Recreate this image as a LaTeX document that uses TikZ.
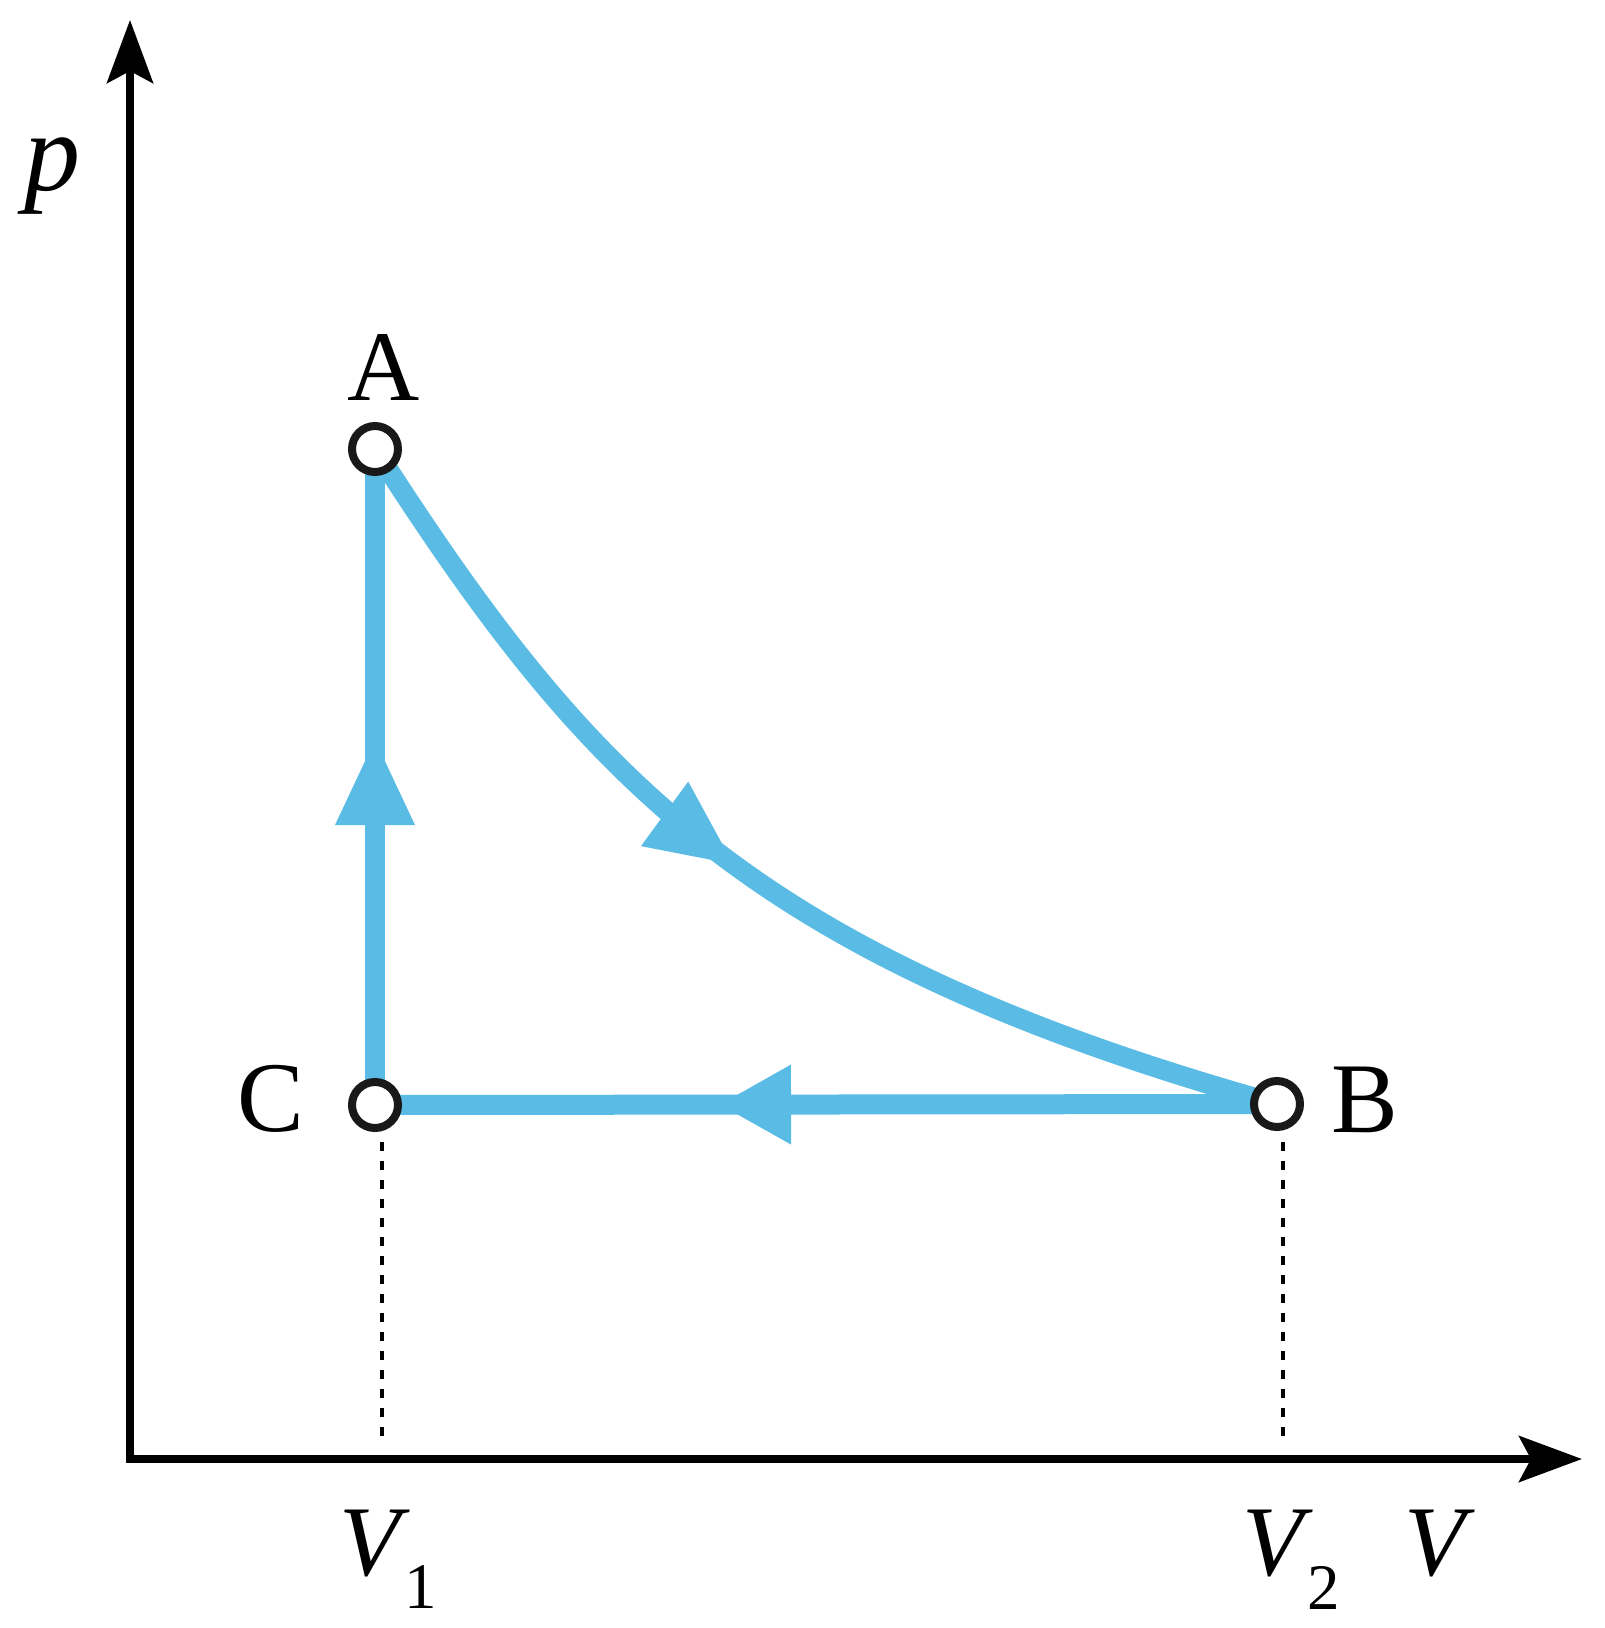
\documentclass[tikz,border=0pt]{standalone}
\usepackage{fontspec}
\setmainfont{Liberation Serif}
\usetikzlibrary{arrows.meta,decorations.markings}
\definecolor{cyc}{RGB}{90,188,228}
\pgfdeclarelayer{bg}
\pgfsetlayers{bg,main}
\begin{document}
\begin{tikzpicture}[x=1pt,y=-1pt,
  axis/.style={line width=7.5pt, line join=miter,
    {Stealth[length=63pt,width=46pt,inset=12pt]}-{Stealth[length=63pt,width=46pt,inset=12pt]}},
  proc/.style={cyc, line width=20pt},
  state/.style={circle, draw=black!90, line width=8pt, fill=white, minimum size=46pt, inner sep=0pt},
  lbl/.style={font=\fontsize{100}{120}\selectfont, inner sep=0pt, anchor=base},
  ilbl/.style={font=\fontsize{100}{120}\selectfont\itshape, inner sep=0pt, anchor=base},
  sub/.style={font=\fontsize{65}{78}\selectfont, inner sep=0pt, anchor=base},
  guide/.style={line width=4pt, dash pattern=on 9pt off 10pt},
  headmark/.style 2 args={postaction={decorate}, decoration={markings,
    mark=at position #1 with {\fill[cyc] (0pt,0pt) -- (-#2pt,40pt) -- (-#2pt,-40pt) -- cycle;}}}
]
\useasboundingbox (0,0) rectangle (1604,1628);

% axes
\coordinate (O) at (130,1459);
\coordinate (Ytip) at (130,20);
\coordinate (Xtip) at (1582,1459);
\draw[axis] (Ytip) -- (O) -- (Xtip);

% states
\node[state] (A) at (375,449) {};
\node[state] (B) at (1277,1104) {};
\node[state] (C) at (375,1105) {};

% processes
\begin{pgfonlayer}{bg}
\draw[proc, headmark={0.48}{85}] (A.center) .. controls (585,775) and (745,955) .. (B.center);
\draw[proc, headmark={365pt}{85}] (C.center) -- (A.center);
\draw[proc, headmark={557pt}{71}] (B.center) -- (C.center);
\end{pgfonlayer}

% guide lines
\coordinate (g1a) at (382,1142);
\coordinate (g1b) at (382,1443);
\coordinate (g2a) at (1283,1142);
\coordinate (g2b) at (1283,1443);
\draw[guide] (g1a) -- (g1b);
\draw[guide] (g2a) -- (g2b);

% labels
\node[ilbl, font=\fontsize{112}{130}\selectfont\itshape] (plab) at (52,190) {p};
\node[lbl] (Alab) at (384,400) {A};
\node[lbl] (Clab) at (271,1131) {C};
\node[lbl] (Blab) at (1365,1132) {B};
\node[ilbl] (V1) at (370,1575) {V};
\node[sub] (V1s) at (421,1608) {1};
\node[ilbl] (V2) at (1273,1575) {V};
\node[sub] (V2s) at (1324,1609) {2};
\node[ilbl] (Vlab) at (1435,1575) {V};
\end{tikzpicture}
\end{document}
